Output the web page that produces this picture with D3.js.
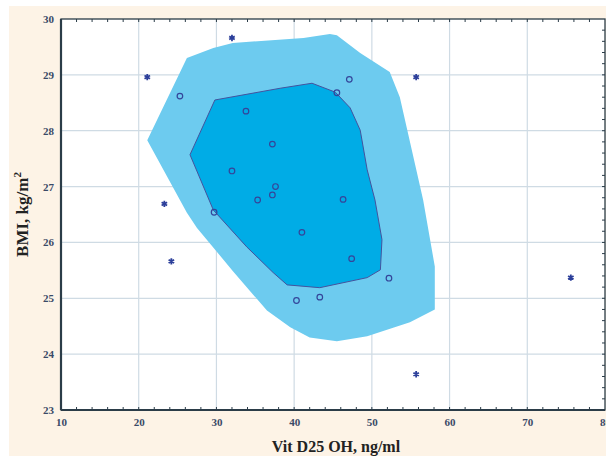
<!DOCTYPE html>
<html>
<head>
<meta charset="utf-8">
<script src="https://cdn.jsdelivr.net/npm/d3@7"></script>
<style>
  body { margin: 0; background: #fff; }
  svg { display: block; }
</style>
</head>
<body>
<svg id="chart" width="606" height="456"></svg>
<script>
/* axis ticks */
const xTicks = [10, 20, 30, 40, 50, 60, 70, 80];
const yTicks = [23, 24, 25, 26, 27, 28, 29, 30];

/* observations inside the bag (circles) */
const vitD = [25.3, 33.8, 37.2, 47.1, 45.5, 32.0, 37.6, 37.2, 35.3, 46.3, 29.7, 41.0, 47.4, 40.3, 43.3, 52.2];
const bmi = [28.62, 28.35, 27.76, 28.92, 28.68, 27.28, 27.0, 26.85, 26.76, 26.77, 26.54, 26.18, 25.71, 24.96, 25.02, 25.36];

/* outliers (stars) */
const outVitD = [32.0, 21.1, 23.3, 24.2, 55.7, 55.7, 75.6];
const outBmi = [29.66, 28.96, 26.69, 25.66, 28.96, 23.64, 25.37];

/* fence (outer polygon) */
const fenceX = [21.1, 26.2, 27.5, 32.1, 36.5, 39.5, 42.0, 45.5, 49.4, 54.9, 58.1, 58.1, 56.6, 53.6, 52.3, 48.5, 45.5, 44.6, 41.2, 32.1, 29.6, 26.2];
const fenceY = [27.83, 26.53, 26.26, 25.49, 24.78, 24.48, 24.30, 24.23, 24.32, 24.57, 24.80, 25.57, 26.76, 28.60, 29.05, 29.39, 29.71, 29.73, 29.66, 29.57, 29.48, 29.30];

/* bag (inner polygon) */
const bagX = [26.6, 29.8, 38.2, 42.3, 45.3, 47.2, 48.5, 49.4, 50.4, 51.3, 51.1, 49.4, 43.3, 39.1, 37.3, 33.9, 29.6];
const bagY = [27.57, 28.55, 28.76, 28.85, 28.69, 28.41, 28.01, 27.30, 26.76, 26.05, 25.51, 25.37, 25.19, 25.24, 25.46, 25.92, 26.58];

const margin = { top: 19, right: 1, bottom: 46, left: 61 };
const width = 606 - margin.left - margin.right;
const height = 456 - margin.top - margin.bottom;

const svg = d3.select('#chart');

/* beige page background */
svg.append('rect')
    .attr('x', 9).attr('y', 6)
    .attr('width', 606 - 9).attr('height', 456 - 6)
    .attr('fill', '#fdf3e6');

const chart = svg.append('g')
    .attr('transform', `translate(${margin.left}, ${margin.top})`);

const x = d3.scaleLinear().domain([10, 80]).range([0, width]);
const y = d3.scaleLinear().domain([23, 30]).range([height, 0]);

chart.append('rect')
    .attr('width', width).attr('height', height)
    .attr('fill', '#ffffff');

/* grid */
chart.append('g').selectAll('line')
    .data(xTicks.slice(1, -1))
    .join('line')
    .attr('x1', d => x(d)).attr('x2', d => x(d))
    .attr('y1', 0).attr('y2', height)
    .attr('stroke', '#cfdbe4').attr('stroke-width', 1.2);
chart.append('g').selectAll('line')
    .data(yTicks.slice(1, -1))
    .join('line')
    .attr('y1', d => y(d)).attr('y2', d => y(d))
    .attr('x1', 0).attr('x2', width)
    .attr('stroke', '#cfdbe4').attr('stroke-width', 1.2);

/* fence and bag */
const poly = (xs, ys) => d3.line().curve(d3.curveLinearClosed)
    .x(d => x(d[0])).y(d => y(d[1]))(xs.map((v, i) => [v, ys[i]]));

chart.append('path')
    .attr('d', poly(fenceX, fenceY))
    .attr('fill', '#6dcbef');
chart.append('path')
    .attr('d', poly(bagX, bagY))
    .attr('fill', '#00ace6')
    .attr('stroke', '#44539e').attr('stroke-width', 1);

/* circles */
chart.append('g').selectAll('circle')
    .data(vitD.map((v, i) => [v, bmi[i]]))
    .join('circle')
    .attr('cx', d => x(d[0])).attr('cy', d => y(d[1]))
    .attr('r', 2.8)
    .attr('fill', 'none')
    .attr('stroke', '#34459a').attr('stroke-width', 1.2);

/* stars */
const star = d3.symbol().type(d3.symbolAsterisk).size(28);
chart.append('g').selectAll('path')
    .data(outVitD.map((v, i) => [v, outBmi[i]]))
    .join('path')
    .attr('transform', d => `translate(${x(d[0])}, ${y(d[1])})`)
    .attr('d', star)
    .attr('fill', 'none')
    .attr('stroke', '#2c3f9a').attr('stroke-width', 1.8);

/* axes frame with inward ticks */
const axisColor = '#2b3c48';
const xAxis = d3.axisBottom(x).tickValues(xTicks).tickSize(0).tickPadding(8).tickFormat(d3.format('d'));
const yAxis = d3.axisLeft(y).tickValues(yTicks).tickSize(0).tickPadding(7).tickFormat(d3.format('d'));

const gx = chart.append('g')
    .attr('transform', `translate(0, ${height})`)
    .call(xAxis);
const gy = chart.append('g').call(yAxis);
[gx, gy].forEach(g => {
    g.select('.domain').remove();
    g.selectAll('text')
        .attr('fill', '#3a4a66')
        .style('font-family', '"Liberation Serif", "Times New Roman", serif')
        .style('font-weight', 'bold')
        .style('font-size', '11px');
});

const minorX = d3.range(12, 80, 2);
const minorY = d3.range(23.2, 30, 0.2);
chart.append('g').selectAll('line')
    .data(minorX)
    .join('line')
    .attr('x1', d => x(d)).attr('x2', d => x(d))
    .attr('y1', height).attr('y2', height - 3)
    .attr('stroke', axisColor);
chart.append('g').selectAll('line')
    .data(minorX)
    .join('line')
    .attr('x1', d => x(d)).attr('x2', d => x(d))
    .attr('y1', 0).attr('y2', 3)
    .attr('stroke', axisColor);
chart.append('g').selectAll('line')
    .data(minorY)
    .join('line')
    .attr('y1', d => y(d)).attr('y2', d => y(d))
    .attr('x1', width).attr('x2', width - 3)
    .attr('stroke', axisColor);

chart.append('rect')
    .attr('width', width).attr('height', height)
    .attr('fill', 'none')
    .attr('stroke', axisColor).attr('stroke-width', 1.3);
chart.append('line')
    .attr('x1', 0).attr('x2', 0).attr('y1', 0).attr('y2', height)
    .attr('stroke', axisColor).attr('stroke-width', 2.2);
chart.append('line')
    .attr('x1', 0).attr('x2', width).attr('y1', height).attr('y2', height)
    .attr('stroke', axisColor).attr('stroke-width', 2.2);

/* axis titles */
svg.append('text')
    .attr('x', margin.left + width / 2 + 3)
    .attr('y', 452)
    .attr('text-anchor', 'middle')
    .style('font-family', '"Liberation Serif", "Times New Roman", serif')
    .style('font-weight', 'bold')
    .style('font-size', '16px')
    .attr('fill', '#222')
    .text('Vit D25 OH, ng/ml');

const yt = svg.append('text')
    .attr('transform', `translate(28, ${margin.top + height / 2}) rotate(-90)`)
    .attr('text-anchor', 'middle')
    .style('font-family', '"Liberation Serif", "Times New Roman", serif')
    .style('font-weight', 'bold')
    .style('font-size', '17px')
    .attr('fill', '#222');
yt.append('tspan').text('BMI, kg/m');
yt.append('tspan').attr('dy', -7).style('font-size', '11px').text('2');
</script>
</body>
</html>
